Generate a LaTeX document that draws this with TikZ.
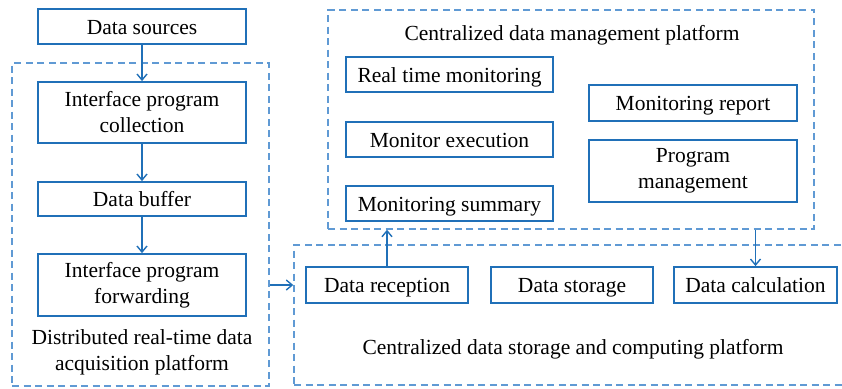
\documentclass[tikz,border=0pt]{standalone}
\usepackage{fontspec}
\setmainfont{Liberation Serif}
\usetikzlibrary{arrows.meta}
\definecolor{boxblue}{RGB}{32,112,184}
\definecolor{dashblue}{RGB}{96,154,212}
\begin{document}
\begin{tikzpicture}[x=1pt,y=-1pt,
  font=\fontsize{21.5}{26}\selectfont,
  blockbox/.style={draw=boxblue,line width=1.8pt,fill=white,inner sep=0pt,
    align=center,minimum width=#1},
  blockbox/.default=208pt,
  oneline/.style={text height=16pt,text depth=0.5pt},
  platform/.style={draw=dashblue,line width=1.4pt,dash pattern=on 7pt off 4.5pt,
    inner sep=0pt},
  flow/.style={draw=boxblue,line width=1.5pt,-{Straight Barb[length=6pt,width=10pt,line width=1.4pt]}},
  caption/.style={align=center,inner sep=0pt}]
\useasboundingbox (0,0) rectangle (842,388);

% platform frames
\node[platform,minimum width=257pt,minimum height=323pt] (acq) at (140.5,224.5) {};
\node[platform,minimum width=486pt,minimum height=219pt] (mgmt) at (571,119.5) {};
\node[platform,minimum width=554pt,minimum height=140pt] (store) at (571,315) {};

% acquisition chain
\node[blockbox,oneline,minimum height=35pt] (src) at (142,26.5) {Data sources};
\node[blockbox,minimum height=61pt] (ipc) at (142,112.5) {Interface program\\collection};
\node[blockbox,oneline,minimum height=34pt] (buf) at (142,199) {Data buffer};
\node[blockbox,minimum height=62pt] (ipf) at (142,285) {Interface program\\forwarding};
\node[caption] (acqlbl) at (142,352) {Distributed real-time data\\acquisition platform};

% management platform
\node[caption,oneline] (mgmtlbl) at (572,33) {Centralized data management platform};
\node[blockbox=207pt,oneline,minimum height=35pt] (rtm) at (449.5,74.5) {Real time monitoring};
\node[blockbox=207pt,oneline,minimum height=35pt] (mex) at (449.5,139.5) {Monitor execution};
\node[blockbox=207pt,oneline,minimum height=35pt] (msum) at (449.5,203.5) {Monitoring summary};
\node[blockbox,oneline,minimum height=36pt] (mrep) at (693,103) {Monitoring report};
\node[blockbox,minimum height=62pt] (pmg) at (693,171) {Program\\management};

% storage and computing platform
\node[blockbox=162pt,oneline,minimum height=36pt] (drec) at (387,285) {Data reception};
\node[blockbox=162pt,oneline,minimum height=36pt] (dsto) at (572,285) {Data storage};
\node[blockbox=163pt,oneline,minimum height=36pt] (dcal) at (755.5,285) {Data calculation};
\node[caption,oneline] (storelbl) at (573,347) {Centralized data storage and computing platform};

% connectors
\draw[flow] (src) -- (ipc);
\draw[flow] (ipc) -- (buf);
\draw[flow] (buf) -- (ipf);
\draw[flow] (acq.east |- drec) -- (store.west |- drec);
\draw[flow] (drec.north) -- (drec.north |- mgmt.south);
\draw[flow] (dcal.north |- mgmt.south) -- (dcal.north);
\end{tikzpicture}
\end{document}
